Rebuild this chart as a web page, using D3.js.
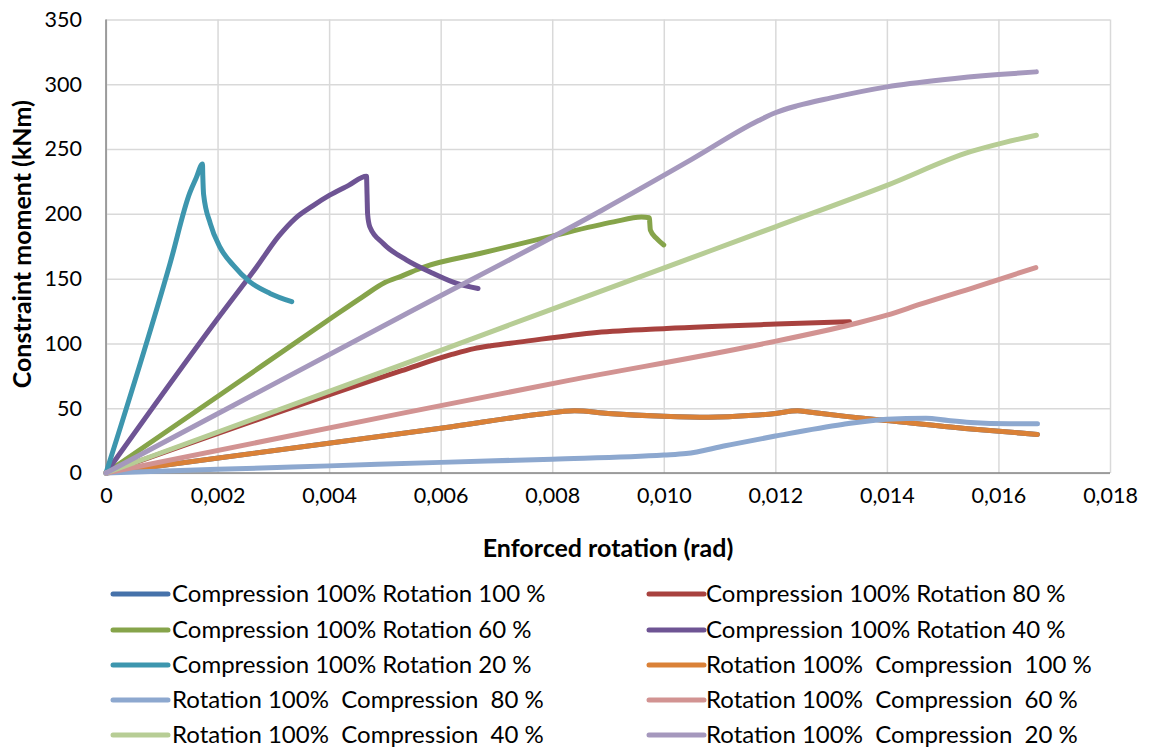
<!DOCTYPE html>
<html>
<head>
<meta charset="utf-8">
<script src="https://cdn.jsdelivr.net/npm/d3@7"></script>
<style>
  html, body { margin: 0; padding: 0; background: #ffffff; }
  svg { display: block; font-family: Lato, "Open Sans", sans-serif; }
</style>
</head>
<body>
<svg id="chart" width="1153" height="751"></svg>
<script>
// ---------- data ----------
const seriesNames = [
  "Compression 100% Rotation 100 %",
  "Compression 100% Rotation 80 %",
  "Compression 100% Rotation 60 %",
  "Compression 100% Rotation 40 %",
  "Compression 100% Rotation 20 %",
  "Rotation 100%  Compression  100 %",
  "Rotation 100%  Compression  80 %",
  "Rotation 100%  Compression  60 %",
  "Rotation 100%  Compression  40 %",
  "Rotation 100%  Compression  20 %"
];
const seriesColors = ["#4672AA", "#A8423F", "#86A44A", "#6E5494", "#3D96AE",
                      "#DA8137", "#8DA8CF", "#D29392", "#B7CD95", "#A598BD"];

const xTickValues = [0, 0.002, 0.004, 0.006, 0.008, 0.010, 0.012, 0.014, 0.016, 0.018];
const yTickValues = [0, 50, 100, 150, 200, 250, 300, 350];

// [rotation (rad), moment (kNm)]
const rot100comp100 = [[0,0],[0.0062,35.7],[0.0078,45.5],[0.0084,48],[0.009,46],[0.0100,43.8],[0.0108,43],[0.0116,44.5],[0.0120,46],[0.0124,48],[0.0126,47],[0.0133,43.5],[0.0140,40.5],[0.0154,34.4],[0.0167,29.8]];
const comp100rot100 = rot100comp100; // identical load case, hidden under the orange line
const comp100rot80 = [[0,0],[0.0053,79],[0.0062,91.5],[0.0066,96],[0.0069,98.2],[0.0074,101],[0.0088,108.5],[0.01005,111.6],[0.01202,114.9],[0.01333,116.7]];
const comp100rot60 = [[0,0],[0.002,59],[0.004,118.5],[0.0046,136],[0.0050,147],[0.0053,152],[0.0057,159],[0.0067,169.4],[0.0079,181.8],[0.0091,193.8],[0.0096,197.5],[0.00974,197],[0.00976,187.4],[0.00987,181],[0.0100,176]];
const comp100rot40 = [[0,0],[0.002,119],[0.0027,159],[0.0031,183],[0.00339,196.4],[0.0037,206],[0.00401,214.4],[0.00435,222],[0.00467,229],[0.00468,215],[0.00469,200],[0.00473,190],[0.00497,177.2],[0.00539,164.3],[0.00587,154],[0.00629,146.3],[0.00667,142.4]];
const comp100rot20 = [[0,0],[0.00115,162],[0.0015,216],[0.00162,228],[0.00173,238.5],[0.001735,230],[0.00175,215],[0.00187,192.5],[0.00204,174.5],[0.00228,160.4],[0.00258,147.5],[0.00294,138.6],[0.00333,132.2]];
const rot100comp80 = [[0,0],[0.002,2.8],[0.004,5.5],[0.006,8.2],[0.008,10.7],[0.010,13.8],[0.0104,15],[0.0111,21],[0.0120,28.5],[0.0132,37.5],[0.0140,41.5],[0.0147,42.3],[0.0151,40.5],[0.0155,39],[0.0162,38],[0.0167,38]];
const rot100comp60 = [[0,0],[0.0053,46],[0.0083,71.5],[0.0117,99],[0.0134,115],[0.0140,121.8],[0.0146,130.3],[0.0156,143.7],[0.01667,158.5]];
const rot100comp40 = [[0,0],[0.0053,83.5],[0.0080,126.5],[0.0103,163],[0.0120,190],[0.0140,222],[0.0155,248],[0.0161,255],[0.01668,260.7]];
const rot100comp20 = [[0,0],[0.0053,121],[0.0089,203],[0.0105,242],[0.0117,272],[0.0120,278],[0.0124,283.5],[0.0130,289.5],[0.0140,298],[0.0150,303.5],[0.0160,307.5],[0.01668,309.6]];

const seriesData = [comp100rot100, comp100rot80, comp100rot60, comp100rot40, comp100rot20,
                    rot100comp100, rot100comp80, rot100comp60, rot100comp40, rot100comp20];

// ---------- layout ----------
const svg = d3.select("#chart");
const plot = { left: 106, right: 1110, top: 19.5, bottom: 473 };

const x = d3.scaleLinear().domain([0, 0.018]).range([plot.left, plot.right]);
const y = d3.scaleLinear().domain([0, 350]).range([plot.bottom, plot.top]);

const locale = d3.formatLocale({ decimal: ",", thousands: ".", grouping: [3], currency: ["", ""] });
const fmtX = d => d === 0 ? "0" : locale.format(".3f")(d);

// gridlines
const gx = svg.append("g")
  .attr("transform", `translate(0,${plot.bottom})`)
  .call(d3.axisBottom(x).tickValues(xTickValues).tickSize(-(plot.bottom - plot.top)).tickFormat(""));
gx.selectAll("line").attr("stroke", "#D9D9D9").attr("stroke-width", 1.5);
gx.select(".domain").remove();

const gy = svg.append("g")
  .attr("transform", `translate(${plot.left},0)`)
  .call(d3.axisLeft(y).tickValues(yTickValues).tickSize(-(plot.right - plot.left)).tickFormat(""));
gy.selectAll("line").attr("stroke", "#D9D9D9").attr("stroke-width", 1.5);
gy.select(".domain").remove();

// axis lines
svg.append("line").attr("x1", plot.left).attr("x2", plot.left)
  .attr("y1", plot.top).attr("y2", plot.bottom).attr("stroke", "#868686").attr("stroke-width", 1.5);
svg.append("line").attr("x1", plot.left).attr("x2", plot.right)
  .attr("y1", plot.bottom).attr("y2", plot.bottom).attr("stroke", "#868686").attr("stroke-width", 1.5);

// tick labels
const ax = svg.append("g")
  .attr("transform", `translate(0,${plot.bottom})`)
  .call(d3.axisBottom(x).tickValues(xTickValues).tickSize(0).tickPadding(15).tickFormat(fmtX));
ax.select(".domain").remove();
ax.selectAll("text").attr("font-size", 21.5).attr("fill", "#000").attr("font-family", "Lato, sans-serif");

const ay = svg.append("g")
  .attr("transform", `translate(${plot.left},0)`)
  .call(d3.axisLeft(y).tickValues(yTickValues).tickSize(0).tickPadding(24).tickFormat(d3.format("d")));
ay.select(".domain").remove();
ay.selectAll("text").attr("font-size", 21.5).attr("fill", "#000").attr("font-family", "Lato, sans-serif");

// axis titles
svg.append("text")
  .attr("x", (plot.left + plot.right) / 2).attr("y", 557)
  .attr("text-anchor", "middle").attr("font-weight", "bold").attr("font-size", 25)
  .text("Enforced rotation (rad)");
svg.append("text")
  .attr("transform", `translate(31,${(plot.top + plot.bottom) / 2 - 2}) rotate(-90)`)
  .attr("text-anchor", "middle").attr("font-weight", "bold").attr("font-size", 25)
  .text("Constraint moment (kNm)");

// lines
const line = d3.line().x(d => x(d[0])).y(d => y(d[1])).curve(d3.curveMonotoneX);
svg.append("g").selectAll("path")
  .data(seriesData)
  .join("path")
  .attr("d", line)
  .attr("fill", "none")
  .attr("stroke", (d, i) => seriesColors[i])
  .attr("stroke-width", 5)
  .attr("stroke-linecap", "round")
  .attr("stroke-linejoin", "round");

// legend
const legendCols = [{ lx: 113, tx: 172 }, { lx: 649, tx: 706 }];
const legendRows = [594, 630, 665, 700, 735];
const legend = svg.append("g").selectAll("g")
  .data(seriesNames)
  .join("g")
  .attr("transform", (d, i) => `translate(0,${legendRows[Math.floor(i / 2)]})`);
legend.append("line")
  .attr("x1", (d, i) => legendCols[i % 2].lx)
  .attr("x2", (d, i) => legendCols[i % 2].lx + 55)
  .attr("y1", 0).attr("y2", 0)
  .attr("stroke", (d, i) => seriesColors[i])
  .attr("stroke-width", 5)
  .attr("stroke-linecap", "round");
legend.append("text")
  .attr("x", (d, i) => legendCols[i % 2].tx)
  .attr("y", 0).attr("dy", "0.35em")
  .attr("font-size", 24)
  .attr("fill", "#000")
  .attr("xml:space", "preserve")
  .style("white-space", "pre")
  .text(d => d);
</script>
</body>
</html>
